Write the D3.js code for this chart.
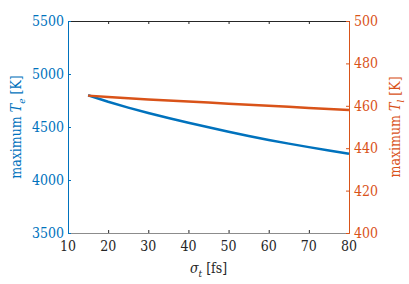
<!doctype html>
<html>
<head>
<meta charset="UTF-8">
<script src="https://cdn.jsdelivr.net/npm/d3@7"></script>
<style>
  body { margin: 0; background: #fff; }
</style>
</head>
<body>
<svg id="chart" width="409" height="284"></svg>
<script>
const sigma = [15, 20, 25, 30, 35, 40, 45, 50, 55, 60, 65, 70, 75, 80];
const maxTe = [4800, 4738, 4683, 4632, 4585, 4540, 4497, 4455, 4415, 4378, 4343, 4310, 4278, 4247];
const maxTl = [464.8, 464.2, 463.6, 463.0, 462.5, 462.0, 461.5, 461.0, 460.5, 460.0, 459.5, 459.0, 458.5, 458.0];
const xTicks = [10, 20, 30, 40, 50, 60, 70, 80];
const teTicks = [3500, 4000, 4500, 5000, 5500];
const tlTicks = [400, 420, 440, 460, 480, 500];

const blue = "#0072BD", red = "#D95319", dark = "#262626";
const FONT = "'DejaVu Serif Condensed', 'DejaVu Serif'";
const FS = "14px";
const m = {left: 68, right: 349, top: 21, bottom: 233};
const svg = d3.select("#chart");

const x = d3.scaleLinear().domain([10, 80]).range([m.left, m.right]);
const yL = d3.scaleLinear().domain([3500, 5500]).range([m.bottom, m.top]);
const yR = d3.scaleLinear().domain([400, 500]).range([m.bottom, m.top]);

function style(g, color) {
  g.select(".domain").attr("stroke", color);
  g.selectAll(".tick line").attr("stroke", color);
}
function txt(sel) {
  return sel.attr("font-family", FONT).attr("font-size", FS);
}

// top box line
svg.append("g").attr("transform", `translate(0,${m.top})`)
  .call(d3.axisBottom(x).tickValues(xTicks).tickSize(3).tickFormat(""))
  .call(g => style(g, dark));

svg.append("g").attr("transform", `translate(0,${m.bottom})`)
  .call(d3.axisTop(x).tickValues(xTicks).tickSize(3).tickFormat(""))
  .call(g => style(g, "#8c8c8c"))
  .call(g => g.selectAll(".tick line").attr("stroke", dark));

svg.append("g").attr("transform", `translate(0,${m.bottom})`)
  .selectAll("text").data(xTicks).join("text")
  .attr("x", d => x(d)).attr("y", 18).attr("text-anchor", "middle")
  .attr("fill", dark).call(txt).text(d => d);

svg.append("g").attr("transform", `translate(${m.left},0)`)
  .call(d3.axisRight(yL).tickValues(teTicks).tickSize(3).tickFormat(""))
  .call(g => style(g, blue));
svg.append("g").selectAll("text").data(teTicks).join("text")
  .attr("x", m.left - 4).attr("y", d => yL(d) + 5).attr("text-anchor", "end")
  .attr("fill", blue).call(txt).text(d => d);

svg.append("g").attr("transform", `translate(${m.right},0)`)
  .call(d3.axisLeft(yR).tickValues(tlTicks).tickSize(3).tickFormat(""))
  .call(g => style(g, red));
svg.append("g").selectAll("text").data(tlTicks).join("text")
  .attr("x", m.right + 5).attr("y", d => yR(d) + 5).attr("text-anchor", "start")
  .attr("fill", red).call(txt).text(d => d);

const lineTe = d3.line().x((d, i) => x(sigma[i])).y(d => yL(d));
const lineTl = d3.line().x((d, i) => x(sigma[i])).y(d => yR(d));
svg.append("path").datum(maxTe).attr("d", lineTe)
  .attr("fill", "none").attr("stroke", blue).attr("stroke-width", 2.5);
svg.append("path").datum(maxTl).attr("d", lineTl)
  .attr("fill", "none").attr("stroke", red).attr("stroke-width", 2.5);

// axis labels
function label(tx, ty, rot, color, main, sub, tail) {
  const t = svg.append("text").attr("transform", `translate(${tx},${ty})${rot ? " rotate(-90)" : ""}`)
    .attr("text-anchor", "middle").attr("fill", color).call(txt);
  if (main) t.append("tspan").text(main);
  t.append("tspan").attr("font-style", "italic").text(sub[0]);
  t.append("tspan").attr("font-style", "italic").attr("dy", 4).attr("font-size", "10px").text(sub[1]);
  t.append("tspan").attr("dy", -4).text(tail);
}
label(21, (m.top + m.bottom) / 2, true, blue, "maximum ", ["T", "e"], " [K]");
label(400, (m.top + m.bottom) / 2, true, red, "maximum ", ["T", "l"], " [K]");
label((m.left + m.right) / 2, 273, false, dark, "", ["σ", "t"], " [fs]");
</script>
</body>
</html>
